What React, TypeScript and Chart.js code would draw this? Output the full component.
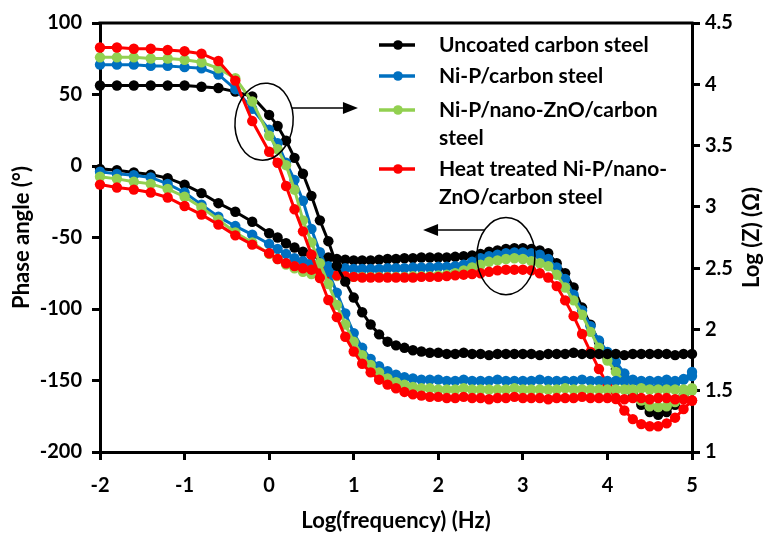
import React, { useEffect, useRef } from 'react';
import { Chart, registerables } from 'chart.js';

Chart.register(...registerables);

// ---------- DATA ----------
const logFreq = [
  -2, -1.8, -1.6, -1.4, -1.2, -1, -0.8, -0.6, -0.4, -0.2,
  0, 0.1, 0.2, 0.3, 0.4, 0.5, 0.6, 0.7, 0.8, 0.9,
  1, 1.1, 1.2, 1.3, 1.4, 1.5, 1.6, 1.7, 1.8, 1.9,
  2, 2.1, 2.2, 2.3, 2.4, 2.5, 2.6, 2.7, 2.8, 2.9,
  3, 3.1, 3.2, 3.3, 3.4, 3.5, 3.6, 3.7, 3.8, 3.9,
  4, 4.1, 4.2, 4.3, 4.4, 4.5, 4.6, 4.7, 4.8, 4.9, 5,
];

const seriesNames = [
  'Uncoated carbon steel',
  'Ni-P/carbon steel',
  'Ni-P/nano-ZnO/carbon steel',
  'Heat treated Ni-P/nano-ZnO/carbon steel',
];

// log|Z| (right axis)
const logZUncoated = [
  3.99, 3.99, 3.99, 3.99, 3.99, 3.99, 3.98, 3.97, 3.94, 3.90,
  3.75, 3.66, 3.54, 3.40, 3.27, 3.09, 2.89, 2.72, 2.52, 2.39,
  2.26, 2.14, 2.04, 1.96, 1.90, 1.87, 1.85, 1.83, 1.82, 1.81,
  1.81, 1.80, 1.80, 1.81, 1.80, 1.80, 1.79, 1.80, 1.80, 1.80,
  1.80, 1.80, 1.79, 1.80, 1.80, 1.80, 1.81, 1.80, 1.80, 1.80,
  1.80, 1.80, 1.79, 1.80, 1.80, 1.80, 1.80, 1.80, 1.79, 1.80, 1.80,
];
const logZNiP = [
  4.16, 4.16, 4.16, 4.15, 4.15, 4.14, 4.13, 4.08, 3.96, 3.80,
  3.63, 3.52, 3.36, 3.22, 3.05, 2.82, 2.63, 2.47, 2.30, 2.13,
  1.97, 1.85, 1.76, 1.70, 1.66, 1.63, 1.61, 1.60, 1.59, 1.59,
  1.59, 1.58, 1.58, 1.59, 1.58, 1.58, 1.58, 1.59, 1.58, 1.58,
  1.58, 1.58, 1.59, 1.58, 1.58, 1.58, 1.58, 1.59, 1.58, 1.58,
  1.58, 1.58, 1.58, 1.59, 1.58, 1.58, 1.58, 1.59, 1.58, 1.59, 1.62,
];
const logZNiPZnO = [
  4.22, 4.22, 4.22, 4.21, 4.21, 4.20, 4.18, 4.13, 4.05, 3.86,
  3.58, 3.47, 3.34, 3.14, 2.89, 2.71, 2.54, 2.37, 2.20, 2.04,
  1.90, 1.79, 1.71, 1.65, 1.60, 1.57, 1.55, 1.53, 1.52, 1.52,
  1.51, 1.51, 1.51, 1.52, 1.51, 1.51, 1.51, 1.51, 1.51, 1.52,
  1.51, 1.51, 1.51, 1.51, 1.51, 1.52, 1.51, 1.51, 1.51, 1.51,
  1.51, 1.51, 1.51, 1.51, 1.52, 1.51, 1.51, 1.51, 1.51, 1.51, 1.52,
];
const logZHeat = [
  4.30, 4.30, 4.29, 4.29, 4.28, 4.27, 4.25, 4.19, 4.03, 3.70,
  3.45, 3.36, 3.17, 2.98, 2.80, 2.61, 2.42, 2.24, 2.10, 1.94,
  1.82, 1.72, 1.65, 1.59, 1.55, 1.52, 1.49, 1.47, 1.46, 1.45,
  1.45, 1.44, 1.44, 1.45, 1.44, 1.44, 1.43, 1.44, 1.44, 1.45,
  1.44, 1.44, 1.44, 1.43, 1.44, 1.44, 1.44, 1.45, 1.44, 1.44,
  1.44, 1.44, 1.43, 1.44, 1.44, 1.43, 1.44, 1.44, 1.43, 1.43, 1.42,
];

// Phase angle (left axis)
const phaseUncoated = [
  -2, -3, -4.5, -6, -8.5, -13, -19, -26, -32, -39,
  -47, -50, -54, -57, -60, -62, -63, -64, -65, -65.5,
  -66, -66, -66, -65.5, -65, -65, -64.5, -64.5, -64, -64,
  -64, -64, -63.5, -63, -62.5, -61.5, -60, -59, -58, -57.5,
  -57.5, -58, -59, -61, -68, -75, -85, -99, -111, -123,
  -134, -142, -150, -159, -167, -172, -174, -172, -167, -161, -156,
];
const phaseNiP = [
  -4, -5.5, -6.5, -8, -12.5, -18.5, -27, -35.5, -42, -48,
  -54.5, -58, -61.5, -64.5, -66.5, -68, -69, -70, -71, -71.5,
  -72, -72, -72, -72, -71.5, -71.5, -71.5, -71, -71, -71,
  -70.5, -70.5, -70, -69, -67, -64.5, -63, -62, -61, -60.5,
  -60.5, -61, -62, -65, -71, -79, -90, -101, -112, -122,
  -130, -137, -145, -150, -153, -155, -155, -154, -152, -149, -144,
];
const phaseNiPZnO = [
  -7.5, -9, -11, -12.5, -16, -21.5, -29, -37.5, -46.5, -53.5,
  -61.5, -65, -69, -71.5, -74, -75.5, -76, -76.5, -77, -77.5,
  -77.5, -77.5, -77.5, -77.5, -77.5, -77.5, -77.5, -77, -77, -77,
  -76.5, -76, -75, -73, -71, -69, -67, -66, -65, -64.5,
  -65, -66.5, -68, -70, -76, -85, -94, -104, -116, -127,
  -136, -144, -151, -158, -164, -168, -168.5, -168, -165, -161, -157,
];
const phaseHeat = [
  -13, -15, -16.5, -18.5, -22, -28, -34, -41, -48.5, -55,
  -61, -65, -68, -70, -71.5, -72.5, -73.5, -75, -76.5, -77,
  -77.5, -78, -78, -78, -78, -78, -78, -78, -77.5, -77.5,
  -77.5, -77, -76.5, -76, -75.5, -75, -74, -73, -72.5, -72.5,
  -72.5, -73, -75, -78, -84, -94, -105, -117.5, -130, -142,
  -153, -163, -171, -177, -180.5, -182, -182, -180, -176, -170, -164,
];

// Axis text
const xTitle = 'Log(frequency) (Hz)';
const yTitle = 'Phase angle (°)';
const y1Title = 'Log (Z) (Ω)';

// Legend text lines (wrapped as in the figure)
const legendLines = [
  ['Uncoated carbon steel'],
  ['Ni-P/carbon steel'],
  ['Ni-P/nano-ZnO/carbon', 'steel'],
  ['Heat treated Ni-P/nano-', 'ZnO/carbon steel'],
];

// Annotation ellipses / arrows (data units: x = log f, y = phase)
const annotEllipses = [
  { cx: -0.06, cy: 31, rx: 0.343, ry: 27, rot: 0.1 },
  { cx: 2.8, cy: -63, rx: 0.343, ry: 27, rot: 0 },
];
const annotArrows = [
  { x0: 0.27, x1: 1.05, y: 40.6 },
  { x0: 2.55, x1: 1.82, y: -44.8 },
];

// ---------- STYLE ----------
const COLORS = ['#000000', '#0070C0', '#92D050', '#FF0000'];
const FONT = 'Lato, "Open Sans", sans-serif';

const overlayPlugin = {
  id: 'overlay',
  afterDraw(chart: any) {
    const { ctx, chartArea: a, scales } = chart;
    const xs = scales.x;
    const ys = scales.y;
    ctx.save();

    // top frame line
    ctx.strokeStyle = '#000';
    ctx.lineWidth = 3;
    ctx.beginPath();
    ctx.moveTo(a.left - 1.5, a.top);
    ctx.lineTo(a.right + 1.5, a.top);
    ctx.stroke();

    // ellipses
    ctx.lineWidth = 1.5;
    const pxPerX = xs.getPixelForValue(1) - xs.getPixelForValue(0);
    const pxPerY = ys.getPixelForValue(0) - ys.getPixelForValue(1);
    annotEllipses.forEach((e) => {
      ctx.beginPath();
      ctx.ellipse(
        xs.getPixelForValue(e.cx),
        ys.getPixelForValue(e.cy),
        e.rx * pxPerX,
        e.ry * pxPerY,
        e.rot,
        0,
        Math.PI * 2
      );
      ctx.stroke();
    });

    // arrows
    annotArrows.forEach((ar) => {
      const x0 = xs.getPixelForValue(ar.x0);
      const x1 = xs.getPixelForValue(ar.x1);
      const y = ys.getPixelForValue(ar.y);
      const dir = x1 > x0 ? 1 : -1;
      const head = 15;
      ctx.beginPath();
      ctx.moveTo(x0, y);
      ctx.lineTo(x1 - dir * head, y);
      ctx.stroke();
      ctx.fillStyle = '#000';
      ctx.beginPath();
      ctx.moveTo(x1, y);
      ctx.lineTo(x1 - dir * head, y - 6);
      ctx.lineTo(x1 - dir * head, y + 6);
      ctx.closePath();
      ctx.fill();
    });

    // legend
    const legX = a.left + 279;
    const legTextX = a.left + 339;
    const rowY = [a.top + 22, a.top + 53, a.top + 87, a.top + 146];
    const lineH = 28.5;
    ctx.font = `bold 21px ${FONT}`;
    ctx.textBaseline = 'middle';
    ctx.textAlign = 'left';
    legendLines.forEach((lines, i) => {
      const y = rowY[i];
      ctx.strokeStyle = COLORS[i];
      ctx.lineWidth = 3.5;
      ctx.beginPath();
      ctx.moveTo(legX, y);
      ctx.lineTo(legX + 36, y);
      ctx.stroke();
      ctx.fillStyle = COLORS[i];
      ctx.beginPath();
      ctx.arc(legX + 19, y, 4.8, 0, Math.PI * 2);
      ctx.fill();
      ctx.fillStyle = '#000';
      lines.forEach((t, j) => ctx.fillText(t, legTextX, y + j * lineH));
    });

    // axis titles
    ctx.fillStyle = '#000';
    ctx.font = `bold 22px ${FONT}`;
    ctx.textAlign = 'center';
    ctx.textBaseline = 'middle';
    ctx.fillText(xTitle, (a.left + a.right) / 2, a.bottom + 69);
    const midY = (a.top + a.bottom) / 2;
    ctx.save();
    ctx.translate(22, midY);
    ctx.rotate(-Math.PI / 2);
    ctx.fillText(yTitle, 0, 0);
    ctx.restore();
    ctx.save();
    ctx.translate(a.right + 60, midY);
    ctx.rotate(-Math.PI / 2);
    ctx.fillText(y1Title, 0, 0);
    ctx.restore();

    ctx.restore();
  },
};

export default function App() {
  const ref = useRef<HTMLCanvasElement>(null);

  useEffect(() => {
    const canvas = ref.current;
    if (!canvas) return;
    const xy = (vals: number[]) => logFreq.map((x, i) => ({ x, y: vals[i] }));
    const mk = (label: string, vals: number[], color: string, axis: string, order: number) => ({
      label,
      data: xy(vals),
      yAxisID: axis,
      borderColor: color,
      backgroundColor: color,
      pointBackgroundColor: color,
      pointBorderColor: color,
      pointBorderWidth: 0,
      pointRadius: 5.2,
      borderWidth: 3,
      tension: 0,
      fill: false,
      clip: false,
      order,
    });

    const datasets = [
      mk(seriesNames[3] + ' |Z|', logZHeat, COLORS[3], 'y1', 0),
      mk(seriesNames[2] + ' |Z|', logZNiPZnO, COLORS[2], 'y1', 1),
      mk(seriesNames[1] + ' |Z|', logZNiP, COLORS[1], 'y1', 2),
      mk(seriesNames[0] + ' |Z|', logZUncoated, COLORS[0], 'y1', 3),
      mk(seriesNames[3] + ' phase', phaseHeat, COLORS[3], 'y', 4),
      mk(seriesNames[2] + ' phase', phaseNiPZnO, COLORS[2], 'y', 5),
      mk(seriesNames[1] + ' phase', phaseNiP, COLORS[1], 'y', 6),
      mk(seriesNames[0] + ' phase', phaseUncoated, COLORS[0], 'y', 7),
    ];

    const tickFont = { family: FONT, size: 20, weight: 'bold' as const };
    const grid = {
      drawOnChartArea: false,
      drawTicks: true,
      tickLength: 8,
      tickWidth: 3,
      tickColor: '#000',
      color: '#000',
      lineWidth: 3,
    };
    const border = { display: true, color: '#000', width: 3 };
    const plainNum = (v: any) => String(Number(v));

    const chart = new Chart(canvas, {
      type: 'line',
      data: { datasets: datasets as any },
      options: {
        animation: false,
        responsive: false,
        devicePixelRatio: 1,
        layout: { padding: { top: 23, left: 0, right: 0, bottom: 0 } },
        plugins: { legend: { display: false }, tooltip: { enabled: false } },
        scales: {
          x: {
            type: 'linear',
            min: -2,
            max: 5,
            ticks: { stepSize: 1, font: tickFont, color: '#000', padding: 14, maxRotation: 0, callback: plainNum },
            grid,
            border,
            afterFit: (s: any) => {
              s.height = 81;
            },
          },
          y: {
            type: 'linear',
            position: 'left',
            min: -200,
            max: 100,
            ticks: { stepSize: 50, font: tickFont, color: '#000', padding: 10, callback: plainNum },
            grid,
            border,
            afterFit: (s: any) => {
              s.width = 100;
            },
          },
          y1: {
            type: 'linear',
            position: 'right',
            min: 1,
            max: 4.5,
            ticks: { stepSize: 0.5, font: tickFont, color: '#000', padding: 5, callback: plainNum },
            grid,
            border,
            afterFit: (s: any) => {
              s.width = 75;
            },
          },
        },
      } as any,
      plugins: [overlayPlugin],
    });
    return () => chart.destroy();
  }, []);

  return (
    <div style={{ position: 'absolute', left: 0, top: 0, width: 767, height: 533, background: '#fff' }}>
      <canvas ref={ref} width={767} height={533} style={{ display: 'block', width: 767, height: 533 }} />
    </div>
  );
}
